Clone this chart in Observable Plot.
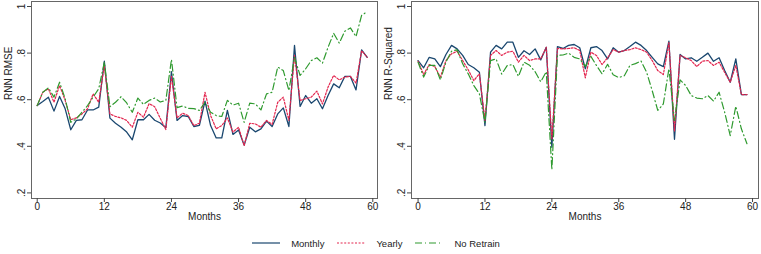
<!DOCTYPE html>
<html><head><meta charset="utf-8">
<script src="https://cdn.jsdelivr.net/npm/d3@7"></script>
<script src="https://cdn.jsdelivr.net/npm/@observablehq/plot@0.6"></script>
<style>
body{margin:0;background:#fff;font-family:"Liberation Sans",Arial,sans-serif;width:761px;height:254px;overflow:hidden;}
#charts{display:flex;}
#legend{display:flex;justify-content:center;align-items:center;margin-top:8px;font-size:9.5px;color:#222;height:12px;padding-left:4px;}
#legend .item{display:flex;align-items:center;}
#legend svg{margin-right:11px;}
#legend span{margin-right:13px;}
</style></head><body>
<div id="charts"></div>
<div id="legend"></div>
<script>
const months = [0,1,2,3,4,5,6,7,8,9,10,11,12,13,14,15,16,17,18,19,20,21,22,23,24,25,26,27,28,29,30,31,32,33,34,35,36,37,38,39,40,41,42,43,44,45,46,47,48,49,50,51,52,53,54,55,56,57,58,59];
const seriesNames = ["Monthly", "Yearly", "No Retrain"];
const seriesColors = ["#1a476f", "#e3264f", "#2f9a2f"];
const seriesDash = ["none", "2,1.6", "7,3,1,3"];
const xTicks = [0, 12, 24, 36, 48, 60];
const yTicks = [0.2, 0.4, 0.6, 0.8, 1];
const yTickLabels = [".2", ".4", ".6", ".8", "1"];
const panelTitles = ["RNN RMSE", "RNN R-Squared"];
const xTitle = "Months";

const rmseMonthly = [0.575,0.592,0.611,0.551,0.614,0.561,0.471,0.511,0.514,0.556,0.556,0.568,0.765,0.521,0.499,0.482,0.461,0.428,0.514,0.514,0.537,0.512,0.500,0.480,0.720,0.511,0.532,0.528,0.485,0.490,0.594,0.489,0.436,0.436,0.554,0.451,0.470,0.405,0.482,0.462,0.475,0.508,0.485,0.539,0.565,0.485,0.833,0.571,0.618,0.585,0.604,0.561,0.618,0.668,0.651,0.700,0.700,0.642,0.814,0.782];
const rmseYearly = [0.575,0.632,0.647,0.589,0.661,0.597,0.514,0.522,0.539,0.561,0.625,0.589,0.747,0.539,0.528,0.522,0.511,0.482,0.546,0.525,0.583,0.570,0.520,0.472,0.700,0.522,0.542,0.532,0.489,0.499,0.632,0.532,0.475,0.489,0.522,0.461,0.482,0.403,0.499,0.496,0.482,0.511,0.494,0.589,0.611,0.511,0.790,0.597,0.604,0.611,0.637,0.582,0.654,0.704,0.685,0.697,0.700,0.671,0.810,0.782];
const rmseNoRetrain = [0.575,0.632,0.651,0.611,0.675,0.604,0.503,0.518,0.546,0.575,0.611,0.647,0.761,0.570,0.589,0.613,0.586,0.546,0.607,0.580,0.597,0.607,0.590,0.597,0.773,0.566,0.573,0.563,0.562,0.554,0.589,0.546,0.532,0.528,0.597,0.577,0.585,0.503,0.585,0.582,0.556,0.625,0.632,0.740,0.725,0.639,0.782,0.704,0.733,0.768,0.780,0.757,0.825,0.885,0.843,0.894,0.908,0.871,0.962,0.978];
const r2Monthly = [0.768,0.737,0.782,0.775,0.742,0.794,0.833,0.818,0.790,0.751,0.737,0.718,0.489,0.804,0.833,0.818,0.847,0.847,0.782,0.810,0.794,0.818,0.771,0.825,0.396,0.828,0.820,0.833,0.837,0.823,0.733,0.823,0.828,0.811,0.775,0.823,0.804,0.811,0.828,0.847,0.833,0.811,0.782,0.754,0.742,0.851,0.430,0.794,0.775,0.780,0.765,0.782,0.800,0.765,0.780,0.725,0.675,0.775,0.622,0.622];
const r2Yearly = [0.765,0.708,0.751,0.742,0.697,0.768,0.797,0.808,0.768,0.728,0.682,0.711,0.511,0.790,0.811,0.790,0.804,0.808,0.761,0.790,0.768,0.775,0.775,0.825,0.430,0.820,0.818,0.820,0.823,0.811,0.694,0.804,0.790,0.751,0.780,0.815,0.804,0.811,0.815,0.823,0.815,0.804,0.768,0.725,0.708,0.845,0.465,0.790,0.780,0.768,0.742,0.765,0.768,0.747,0.761,0.717,0.675,0.747,0.622,0.622];
const r2NoRetrain = [0.761,0.697,0.747,0.747,0.685,0.761,0.808,0.814,0.754,0.711,0.661,0.625,0.503,0.768,0.775,0.710,0.747,0.751,0.700,0.761,0.748,0.720,0.677,0.720,0.300,0.790,0.792,0.800,0.782,0.775,0.743,0.786,0.747,0.711,0.752,0.707,0.695,0.703,0.747,0.755,0.766,0.718,0.639,0.554,0.582,0.733,0.510,0.685,0.661,0.618,0.607,0.604,0.618,0.594,0.632,0.546,0.446,0.572,0.475,0.411];

const font = "Liberation Sans, Arial, sans-serif";
const yDomain = [0.176, 1.0215];

function panel(width, title, seriesValues, xDomain) {
  const lines = seriesValues.map((vals, i) =>
    Plot.line(months, {
      x: d => d,
      y: (d, j) => vals[j],
      stroke: seriesColors[i],
      strokeWidth: i === 0 ? 1.3 : 1.2,
      strokeDasharray: seriesDash[i],
      strokeLinejoin: "round"
    })
  );
  return Plot.plot({
    width, height: 229,
    marginLeft: 31, marginRight: 3, marginTop: 1, marginBottom: 31,
    style: {fontFamily: font, fontSize: "10px", background: "white", color: "#222", overflow: "visible"},
    x: {domain: xDomain, axis: null},
    y: {domain: yDomain, axis: null},
    marks: [
      ...lines,
      Plot.frame({stroke: "#666", strokeWidth: 1}),
      Plot.ruleX(xTicks, {x: d => d, y1: yDomain[0], y2: yDomain[0], stroke: "#444", insetBottom: -4}),
      Plot.text(xTicks, {x: d => d, frameAnchor: "bottom", dy: 11, text: d => String(d), fill: "#222"}),
      Plot.ruleY(yTicks, {y: d => d, x1: xDomain[0], x2: xDomain[0], stroke: "#444", insetLeft: -4}),
      Plot.text(yTicks, {y: d => d, frameAnchor: "left", dx: -10, rotate: -90, text: (d, i) => yTickLabels[i], textAnchor: "middle", fill: "#222"}),
      Plot.text([xTitle], {frameAnchor: "bottom", dy: 21, fill: "#222"}),
      Plot.text([title], {frameAnchor: "left", dx: -22.5, rotate: -90, fill: "#222"})
    ]
  });
}

const charts = document.getElementById("charts");
charts.append(panel(380, panelTitles[0], [rmseMonthly, rmseYearly, rmseNoRetrain], [-1.02, 60.84]));
charts.append(panel(381, panelTitles[1], [r2Monthly, r2Yearly, r2NoRetrain], [-1.18, 61.07]));

const legend = document.getElementById("legend");
seriesNames.forEach((name, i) => {
  const item = document.createElement("div");
  item.className = "item";
  const svg = d3.create("svg").attr("width", 28).attr("height", 10);
  svg.append("line").attr("x1", 0).attr("x2", 28).attr("y1", 5).attr("y2", 5)
    .attr("stroke", seriesColors[i]).attr("stroke-width", 1.2)
    .attr("stroke-dasharray", seriesDash[i]);
  item.append(svg.node());
  const span = document.createElement("span");
  span.textContent = name;
  item.append(span);
  legend.append(item);
});
</script>
</body></html>
